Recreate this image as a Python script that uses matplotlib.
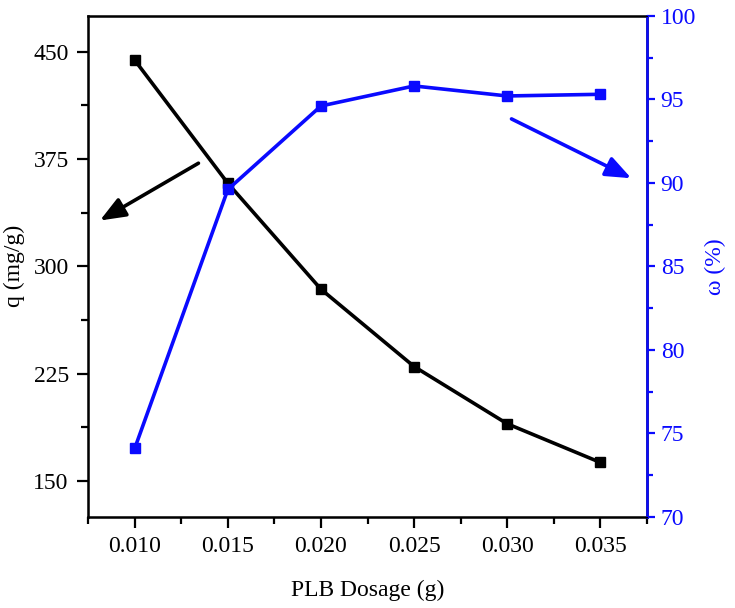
import matplotlib.pyplot as plt
from matplotlib.ticker import MultipleLocator

plt.rcParams['font.family'] = ['Liberation Serif', 'DejaVu Serif']

dosage = [0.010, 0.015, 0.020, 0.025, 0.030, 0.035]
q_vals = [444, 358, 284, 230, 190, 163]
w_vals = [74.1, 89.6, 94.6, 95.8, 95.2, 95.3]

blue = '#0a0aff'

fig, ax = plt.subplots(figsize=(7.35, 6.08), dpi=100)
fig.subplots_adjust(left=0.12, right=0.88, top=0.974, bottom=0.15)

ax.plot(dosage, q_vals, color='black', lw=2.6, marker='s', ms=7.5)
ax.set_xlim(0.0075, 0.0375)
ax.set_ylim(125, 475)
ax.set_yticks([150, 225, 300, 375, 450])
ax.yaxis.set_minor_locator(MultipleLocator(37.5))
ax.set_xticks(dosage)
ax.set_xticklabels(['%.3f' % d for d in dosage])
ax.xaxis.set_minor_locator(MultipleLocator(0.0025))
ax.tick_params(which='major', direction='out', length=8, width=1.6, labelsize=17,
               pad=6)
ax.tick_params(which='minor', direction='out', length=5, width=1.6)
ax.set_xlabel('PLB Dosage (g)', fontsize=17, labelpad=16)
ax.set_ylabel('q (mg/g)', fontsize=17, labelpad=6)
for s in ax.spines.values():
    s.set_linewidth(1.8)

ax2 = ax.twinx()
ax2.plot(dosage, w_vals, color=blue, lw=2.6, marker='s', ms=7.5)
ax2.set_ylim(70, 100)
ax2.yaxis.set_major_locator(MultipleLocator(5))
ax2.yaxis.set_minor_locator(MultipleLocator(2.5))
ax2.tick_params(which='major', direction='out', length=6, width=1.6, labelsize=17,
                colors=blue, pad=4)
ax2.tick_params(which='minor', direction='out', length=4, width=1.6, colors=blue)
ax2.spines['right'].set_color(blue)
ax2.spines['right'].set_linewidth(1.8)
ax2.set_ylabel('ω (%)', fontsize=17, color=blue, labelpad=6)

# arrows pointing to the respective axes
ax.annotate('', xy=(0.0080, 331), xytext=(0.01355, 373),
            arrowprops=dict(arrowstyle='-|>,head_length=0.7,head_width=0.28',
                            color='black', lw=2.6, mutation_scale=22))
ax2.annotate('', xy=(0.0368, 90.2), xytext=(0.0301, 93.9),
             arrowprops=dict(arrowstyle='-|>,head_length=0.7,head_width=0.28',
                             color=blue, lw=2.6, mutation_scale=22))

fig.savefig('out.png')
